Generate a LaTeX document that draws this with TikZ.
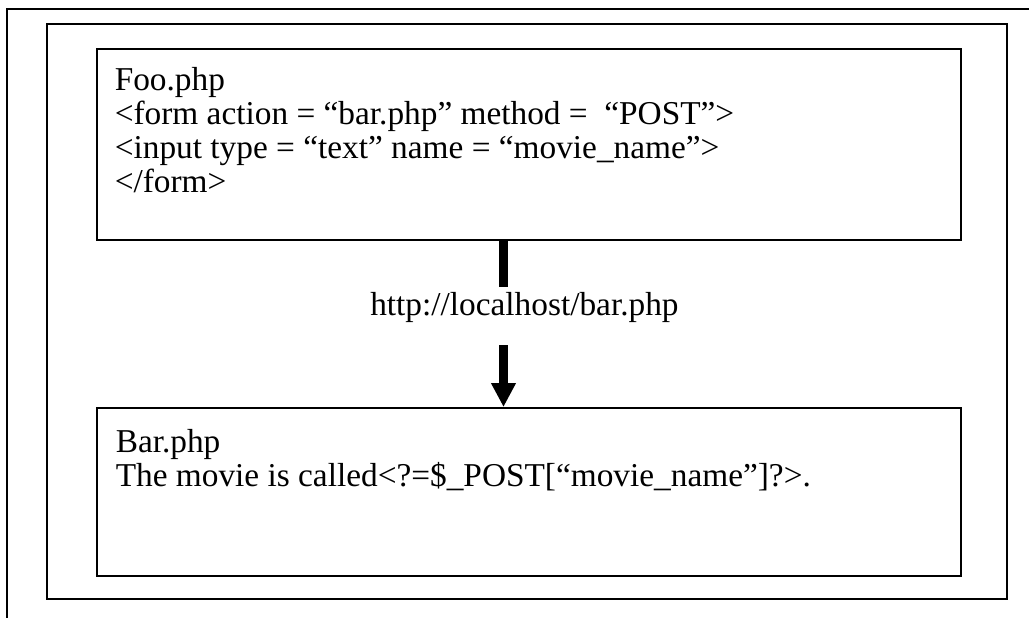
\documentclass[tikz,border=0pt]{standalone}
\usepackage{fontspec}
\setmainfont{Liberation Serif}
\usepackage{tikz}
\usetikzlibrary{arrows.meta,positioning,calc}
\tikzset{
  frame/.style={draw=black,line width=1.5pt},
  phpbox/.style={frame,rectangle,minimum width=648pt,inner sep=0pt,anchor=north west},
  code/.style={anchor=north west,inner sep=0pt,align=left,
               font=\fontsize{25pt}{25.5pt}\selectfont},
  flow/.style={draw=black,line width=6.3pt},
}
\begin{document}
\begin{tikzpicture}[x=0.75pt,y=-0.75pt]
  \useasboundingbox (0,0) rectangle (1029,618);
  % page edges
  \draw[frame] (7.3,618) -- (7.3,9.3) -- (1029,9.3);
  \draw[frame] (47.3,24) rectangle (1007.3,599);
  % the two pages
  \node[phpbox,minimum height=142.9pt] (foo) at (95.5,48) {};
  \node[phpbox,minimum height=126pt] (bar) at (95.5,407) {};
  \node[code] (footext) at ([shift={(19,19.2)}]foo.north west)
    {Foo.php\\
     <form action = “bar.php” method =~~“POST”>\\
     <input type = “text” name = “movie\_name”>\\
     </form>};
  \node[code] (bartext) at ([shift={(20,22)}]bar.north west)
    {Bar.php\\
     The movie is called<?=\$\_POST[“movie\_name”]?>.};
  % request
  \coordinate (gapTop) at (503.5,287);
  \coordinate (gapBot) at (503.5,345);
  \node[anchor=base west,inner sep=0pt,font=\fontsize{25pt}{25.5pt}\selectfont]
    (url) at (370,315) {http://localhost/bar.php};
  \draw[flow] (foo.south -| gapTop) -- (gapTop);
  \draw[flow,-{Triangle[length=18pt,width=17.5pt]}] (gapBot) -- (bar.north -| gapBot);
\end{tikzpicture}
\end{document}
